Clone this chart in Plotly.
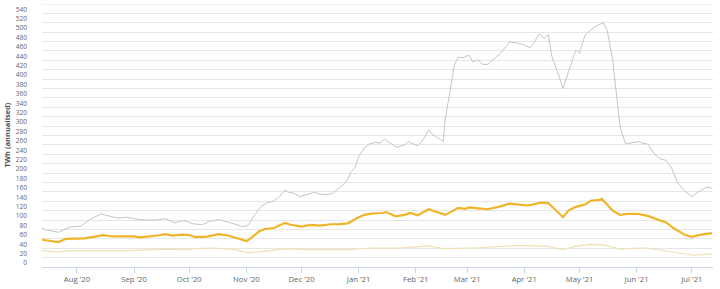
import plotly.graph_objects as go

# ---- data ----
upper_dates = ["2020-07-13","2020-07-15","2020-07-22","2020-07-28","2020-08-03","2020-08-08","2020-08-14","2020-08-19","2020-08-23","2020-08-28",
               "2020-09-02","2020-09-08","2020-09-13","2020-09-18","2020-09-23","2020-09-28","2020-10-03","2020-10-08","2020-10-12","2020-10-17",
               "2020-10-21","2020-10-26","2020-10-30","2020-11-02","2020-11-05","2020-11-09","2020-11-12","2020-11-16","2020-11-19","2020-11-22",
               "2020-11-24","2020-11-27","2020-11-30","2020-12-04","2020-12-08","2020-12-11","2020-12-15","2020-12-18","2020-12-21","2020-12-23",
               "2020-12-26","2020-12-28","2020-12-30","2021-01-01","2021-01-04","2021-01-07","2021-01-10","2021-01-13","2021-01-15","2021-01-18",
               "2021-01-22","2021-01-26","2021-01-28","2021-01-30","2021-02-02","2021-02-05","2021-02-08","2021-02-10","2021-02-13","2021-02-16",
               "2021-02-17","2021-02-20","2021-02-22","2021-02-24","2021-02-27","2021-03-02","2021-03-04","2021-03-07","2021-03-09","2021-03-12",
               "2021-03-15","2021-03-19","2021-03-22","2021-03-24","2021-03-28","2021-03-31","2021-04-04","2021-04-06","2021-04-09","2021-04-12",
               "2021-04-14","2021-04-16","2021-04-19","2021-04-22","2021-04-25","2021-04-27","2021-04-29","2021-05-01","2021-05-04","2021-05-07",
               "2021-05-10","2021-05-14","2021-05-16","2021-05-19","2021-05-21","2021-05-23","2021-05-26","2021-05-29","2021-06-02","2021-06-04",
               "2021-06-07","2021-06-11","2021-06-14","2021-06-17","2021-06-20","2021-06-23","2021-06-27","2021-07-01","2021-07-05","2021-07-09",
               "2021-07-12"]
upper_vals = [83,79,74,85,87,101,113,108,104,106,
              102,100,100,103,94,99,92,90,97,101,
              97,91,86,89,108,129,136,141,150,164,
              159,157,150,155,159,155,154,157,166,173,
              186,203,211,235,253,262,265,264,273,264,
              255,260,267,264,258,271,292,283,274,267,
              313,384,430,446,446,451,437,441,432,431,
              441,455,469,479,477,474,467,476,496,487,
              495,448,416,380,416,441,462,455,494,504,
              513,520,504,441,370,299,262,264,267,264,
              262,239,230,227,211,182,162,150,161,170,
              168]

estimate_dates = ["2020-07-13","2020-07-16","2020-07-22","2020-07-26","2020-08-01","2020-08-05","2020-08-10","2020-08-15","2020-08-21","2020-08-26",
                  "2020-09-01","2020-09-04","2020-09-10","2020-09-14","2020-09-18","2020-09-22","2020-09-27","2020-10-01","2020-10-04","2020-10-10",
                  "2020-10-17","2020-10-22","2020-10-28","2020-11-01","2020-11-03","2020-11-08","2020-11-11","2020-11-16","2020-11-22","2020-11-25",
                  "2020-12-01","2020-12-06","2020-12-11","2020-12-17","2020-12-22","2020-12-26","2020-12-28","2020-12-31","2021-01-04","2021-01-09",
                  "2021-01-14","2021-01-16","2021-01-21","2021-01-26","2021-01-29","2021-02-02","2021-02-08","2021-02-12","2021-02-17","2021-02-21",
                  "2021-02-24","2021-02-28","2021-03-02","2021-03-07","2021-03-12","2021-03-18","2021-03-24","2021-03-29","2021-04-03","2021-04-10",
                  "2021-04-14","2021-04-17","2021-04-22","2021-04-25","2021-04-29","2021-05-04","2021-05-07","2021-05-12","2021-05-13","2021-05-16",
                  "2021-05-19","2021-05-23","2021-05-27","2021-06-02","2021-06-07","2021-06-11","2021-06-17","2021-06-21","2021-06-27","2021-07-01",
                  "2021-07-06","2021-07-12"]
estimate_vals = [58,56,53,60,60,61,64,68,65,65,
                 65,63,65,67,70,67,69,68,64,64,
                 70,67,60,55,60,76,81,83,94,90,
                 86,89.5,88,91,91.5,93,97,104,111,114,
                 115,117,108,111,115,110,123,117,111,119,
                 126,124,127,125,123,128,135,133,131,137,
                 136,125,106,120,128,133,141,143,145,133,
                 120,111,113,113,109,103,95,83,69,64,
                 69,72]

lower_dates = ["2020-07-13","2020-07-21","2020-07-30","2020-08-17","2020-08-30","2020-09-11","2020-09-19","2020-09-30","2020-10-04","2020-10-15",
               "2020-10-26","2020-11-02","2020-11-09","2020-11-22","2020-12-06","2020-12-27","2021-01-07","2021-01-23","2021-02-08","2021-02-16",
               "2021-03-07","2021-03-20","2021-03-29","2021-04-14","2021-04-22","2021-04-29","2021-05-07","2021-05-15","2021-05-23","2021-06-05",
               "2021-06-14","2021-06-27","2021-07-02","2021-07-12"]
lower_vals = [35,32,35,35,35,37,38,37,39,40.5,
              37,30,33.5,38.5,37,37,40.5,40,45,39,
              41,44,46,44,37,44,48,46,38,41,
              36,28.5,25,28]

y_ticks = list(range(0, 541, 20))
y_title = "TWh (annualised)"

fig = go.Figure()
fig.add_trace(go.Scatter(x=upper_dates, y=upper_vals, mode="lines",
                         line=dict(color="#c6c6c6", width=1), hoverinfo="skip"))
fig.add_trace(go.Scatter(x=lower_dates, y=lower_vals, mode="lines",
                         line=dict(color="#efe0b6", width=1.2), hoverinfo="skip"))
fig.add_trace(go.Scatter(x=estimate_dates, y=estimate_vals, mode="lines",
                         line=dict(color="#f0b429", width=2.2), hoverinfo="skip"))

fig.update_layout(
    width=720, height=289,
    margin=dict(l=42, r=7, t=4, b=22),
    paper_bgcolor="white", plot_bgcolor="white",
    showlegend=False,
    font=dict(family="Open Sans", color="#666666"),
    xaxis=dict(
        type="date",
        range=["2020-07-13", "2021-07-12 12:00"],
        tick0="2020-08-01", dtick="M1", tickformat="%b '%y",
        showgrid=False, zeroline=False,
        showline=True, linecolor="#ccd6eb", linewidth=1,
        ticks="outside", ticklen=5, tickcolor="#ccd6eb",
        tickfont=dict(size=7.7, color="#666666"),
    ),
    yaxis=dict(
        range=[0, 560],
        tickvals=y_ticks,
        showgrid=True, gridcolor="#e6e6e6", gridwidth=1,
        zeroline=False, showline=False,
        tickfont=dict(size=6.6, color="#666666"),
        ticklabelstandoff=14,
        ticklabelshift=-4,
    ),
    shapes=[dict(type="line", xref="paper", x0=0, x1=1, yref="y", y0=560, y1=560,
                 line=dict(color="#e6e6e6", width=1), layer="below")],
    annotations=[dict(text="<b>" + y_title + "</b>", xref="paper", yref="paper",
                      x=0, y=0.5, xshift=-36, xanchor="center", yanchor="middle",
                      textangle=-90, showarrow=False,
                      font=dict(size=7.5, color="#555555", family="Open Sans"))],
)

fig.write_html("out.html")
